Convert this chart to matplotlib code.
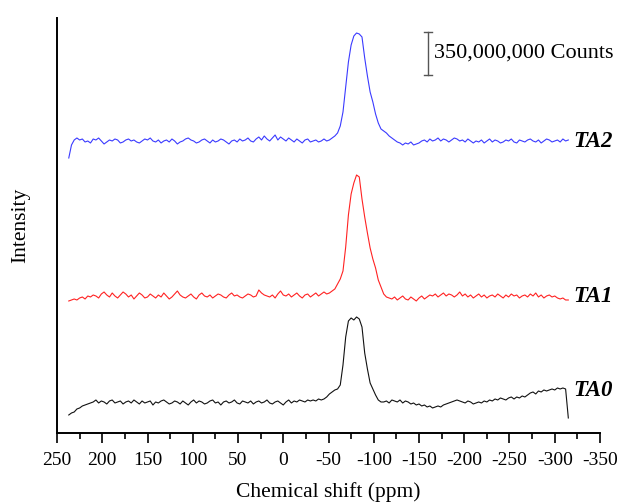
import numpy as np
import matplotlib.pyplot as plt

plt.rcParams['font.family'] = ['Liberation Serif', 'DejaVu Serif']
plt.rcParams['axes.unicode_minus'] = False

# chemical shift grid (ppm), 3 ppm spacing
ppm = np.arange(237, -317, -3)

# intensities above each trace's own baseline (a.u.)
ta2 = [-16, -3, 2, 4, 2, 3, 0, 1, -1, 3,
       2, 4, 1, -2, 0, 2, 1, 3, 2, -1,
       0, 2, 3, 1, 2, 0, -1, 1, 3, 2,
       4, 1, 0, 2, -1, 1, 2, 0, 3, 1,
       -2, 0, 1, 3, 4, 2, 1, -1, 0, 2,
       3, 1, -1, 2, 0, 1, 3, 2, 0, -2,
       1, 2, 0, 3, 1, 2, 4, 1, 0, 3,
       5, 2, 6, 3, 1, 4, 7, 2, 5, 3,
       1, 4, 2, 0, 3, 1, -1, 2, 3, 0,
       1, 2, 0, 1, 3, 1,
       2, 4, 6, 9, 16, 30, 55, 80, 97, 106,
       109, 108, 105, 84, 66, 50, 40, 28, 19, 13,
       11, 9, 6, 4,
       2, 0, -1, -3, -1, -2, 0, -3, -2, -1,
       1, 2, 0, 3, 1, 2, 4, 1, 3, 2,
       0, 2, 4, 3, 1, 2, 0, 3, 1, -1,
       1, 0, 2, -1, 1, 3, 0, 2, 1, -1,
       0, 2, 1, 3, 0, -1, 2, 1, 0, 2,
       3, 1, 0, 2, -1, 1, 3, 2, 0, 1,
       2, 0, 3, 1, 2]

ta1 = [-4, -3, -2, -3, -1, 0, -2, 1, 0, 2,
       1, -1, 3, 5, 2, 0, 4, 1, -1, 2,
       5, 3, 0, 2, -2, 1, 4, 2, -1, 0,
       3, 1, -1, 2, 0, 4, 1, -2, 0, 3,
       6, 2, 0, -1, 1, 3, 0, -2, 2, 4,
       1, 0, 2, -1, 1, 3, 2, 0, -1, 2,
       4, 1, 2, 0, -1, 1, 3, 2, 0, 1,
       7, 4, 2, 1, 0, 2, -1, 3, 6, 2,
       1, 3, 0, 2, 4, 1, -1, 2, 3, 0,
       2, 4, 1, 3, 5, 3,
       4, 6, 8, 13, 18, 26, 50, 82, 103, 114,
       122, 120, 98, 80, 64, 49, 38, 29, 17, 10,
       3, 0,
       -1, -2, 0, -3, -1, 1, -2, -3, 0, -2,
       -4, -1, 1, -2, 0, 2, 1, 3, 0, 2,
       4, 1, 3, 2, 0, 2, 5, 1, 3, 0,
       2, -1, 1, 3, 0, 2, -1, 1, 2, 0,
       3, 1, -1, 2, 0, 3, 1, 2, -1, 1,
       2, 0, 3, 1, 4, 0, 2, -1, 1, 2,
       0, 1, -1, -2, -1, -3, -3]

ta0 = [-12, -10, -9, -6, -5, -3, -2, -1, 0, 1,
       3, 0, 2, 1, -1, 2, 3, 0, 1, 2,
       -1, 1, 2, 0, 3, 1, -1, 2, 0, 1,
       2, -2, 1, 0, 2, 3, 1, -1, 0, 2,
       1, -1, 2, 0, -2, 1, 3, 0, 2, 1,
       -1, 0, 2, 3, 0, 1, -2, 1, 2, 0,
       1, 3, 0, -1, 2, 1, 0, 2, -1, 1,
       2, 0, 1, 3, 0, -1, 1, 2, 0, -2,
       1, 3, 0, 2, 1, 3, 2, 1, 3, 2,
       3, 2, 4, 3,
       4, 6, 9, 11, 13, 14, 18, 38, 66, 82,
       85, 83, 86, 84, 76, 50, 34, 20, 14, 8,
       3, 1,
       1, 2, 0, 3, 2, 1, 3, 0, 2, 1,
       -1, 0, -2, -1, -3, -2, -4, -3, -5, -4,
       -3, -4, -2, -1, 0, 1, 2, 3, 2, 1,
       0, 2, 1, -1, 0, 1, 0, 2, 1, 3,
       2, 4, 3, 5, 4, 3, 5, 6, 4, 6,
       5, 7, 6, 8, 10, 11, 9, 12, 11, 13,
       12, 13, 14, 13, 15, 14, 15, 14, -15]

names = ['TA0', 'TA1', 'TA2']
offsets = [30, 136, 291]
colors = ['#111111', '#ff2222', '#3a3aff']

bar_len = 43          # 350,000,000 counts
bar_x = -160
bar_top = 401

fig = plt.figure(figsize=(6.19, 5.04), dpi=100)
ax = fig.add_axes([0.0921, 0.1409, 0.8772, 0.8234])

for y, off, c in zip([ta0, ta1, ta2], offsets, colors):
    ax.plot(ppm, np.array(y) + off, color=c, lw=0.8)

for name, off in zip(names, offsets):
    dy = 12 if name == 'TA0' else 0
    ax.text(-320, off + dy, name, fontsize=16.5, fontweight='bold',
            fontstyle='italic', va='center', ha='left')

# scale bar
ax.plot([bar_x, bar_x], [bar_top - bar_len, bar_top], color='#555555', lw=1)
for yy in (bar_top - bar_len, bar_top):
    ax.plot([bar_x + 4, bar_x - 4], [yy, yy], color='#555555', lw=1)
ax.text(bar_x - 7, bar_top - bar_len / 2, '350,000,000 Counts', fontsize=16,
        va='center', ha='left')

ax.set_xlim(250, -350)
ax.set_ylim(0, 415)
ax.set_xticks(np.arange(250, -351, -50))
ax.set_xticks(np.arange(225, -350, -50), minor=True)
ax.set_yticks([])
ax.tick_params(axis='x', which='major', direction='out', length=7, width=1.2,
               labelsize=14, pad=7)
ax.tick_params(axis='x', which='minor', direction='out', length=4, width=1.2)
for s in ['top', 'right']:
    ax.spines[s].set_visible(False)
for s in ['left', 'bottom']:
    ax.spines[s].set_linewidth(1.4)

ax.set_xlabel('Chemical shift (ppm)', fontsize=15.5, labelpad=9)
ax.set_ylabel('Intensity', fontsize=15.5, labelpad=19)

fig.savefig('out.png', dpi=100)
